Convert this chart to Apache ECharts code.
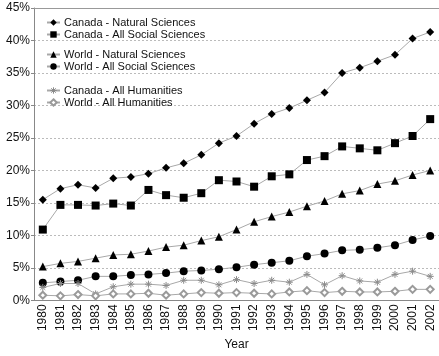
<!DOCTYPE html>
<html>
<head>
<meta charset="utf-8">
<script src="https://cdn.jsdelivr.net/npm/echarts@6/dist/echarts.min.js"></script>
<style>
html,body{margin:0;padding:0;background:#fff;}
#chart{width:439px;height:356px;}
</style>
</head>
<body>
<div id="chart"></div>
<script>
// years on the x axis
var years = ['1980','1981','1982','1983','1984','1985','1986','1987','1988','1989','1990','1991',
	'1992','1993','1994','1995','1996','1997','1998','1999','2000','2001','2002'];

// shares in percent
var canadaNatural = [15.5,17.2,17.8,17.3,18.8,19.0,19.5,20.4,21.1,22.4,24.2,25.3,27.2,28.7,29.6,30.8,32.0,35.0,35.8,36.8,37.8,40.3,41.3];
var canadaSocial  = [10.9,14.7,14.7,14.6,14.9,14.6,17.0,16.2,15.8,16.5,18.5,18.3,17.5,19.1,19.4,21.6,22.2,23.7,23.4,23.1,24.2,25.3,27.9];
var worldNatural  = [5.2,5.7,6.0,6.5,7.0,7.1,7.6,8.2,8.5,9.2,9.8,10.9,12.1,12.9,13.6,14.5,15.3,16.4,16.9,17.9,18.4,19.3,20.0];
var worldSocial   = [2.7,2.9,3.1,3.7,3.7,3.9,4.0,4.2,4.5,4.6,4.8,5.1,5.5,5.8,6.1,6.8,7.2,7.7,7.8,8.1,8.5,9.3,9.9];
var canadaHum     = [2.0,2.6,2.6,1.0,2.1,2.5,2.5,2.3,3.1,3.1,2.4,3.2,2.6,3.1,2.8,4.0,2.4,3.8,3.0,2.8,4.0,4.5,3.7];
var worldHum      = [0.8,0.7,0.9,0.7,1.0,1.0,1.1,0.8,1.0,1.2,1.1,1.2,1.1,1.0,1.3,1.5,1.2,1.4,1.3,1.3,1.4,1.7,1.7];

var names = ['Canada - Natural Sciences','Canada - All Social Sciences','World - Natural Sciences',
	'World - All Social Sciences','Canada - All Humanities','World - All Humanities'];

var font = 'Liberation Sans, Arial, sans-serif';
var star = 'path://M0,5L10,5M5,0L5,10M1.5,1.5L8.5,8.5M8.5,1.5L1.5,8.5';
var starGrey = '#8a8a8a';

function mk(name, data, symbol, size, color){
	return {
		name: name,
		type: 'line',
		data: data,
		symbol: symbol,
		symbolSize: size,
		showAllSymbol: true,
		lineStyle: {color: '#a8a8a8', width: 1},
		itemStyle: {color: color, borderColor: color, borderWidth: symbol == star ? 1 : 0},
		emphasis: {disabled: true},
		animation: false
	};
}

var chart = echarts.init(document.getElementById('chart'));

function legend(items, top){
	return {
		data: items,
		orient: 'vertical',
		left: 41,
		top: top,
		itemWidth: 13,
		itemHeight: 8,
		itemGap: 1,
		textStyle: {fontFamily: font, fontSize: 11, color: '#111', padding: [0,0,0,-1]},
		selectedMode: false
	};
}

var option = {
	animation: false,
	grid: {left: 34, right: -1, top: 8, bottom: 50},
	legend: [
		legend([names[0], names[1]], 12),
		legend([names[2], names[3]], 44),
		legend([
			{name: names[4], itemStyle: {color: 'rgba(0,0,0,0)', borderColor: starGrey, borderWidth: 1}},
			names[5]
		], 80)
	],
	xAxis: [{
		type: 'category',
		data: years,
		name: 'Year',
		nameLocation: 'middle',
		nameGap: 38,
		nameTextStyle: {fontFamily: font, fontSize: 12, color: '#111'},
		axisLine: {lineStyle: {color: '#888'}},
		axisTick: {length: 5, lineStyle: {color: '#888'}},
		axisLabel: {rotate: 90, fontFamily: font, fontSize: 12, color: '#111', margin: 4}
	}, {
		// top frame line only
		type: 'category',
		data: years,
		position: 'top',
		axisLine: {lineStyle: {color: '#999'}},
		axisTick: {show: false},
		axisLabel: {show: false}
	}],
	yAxis: {
		type: 'value',
		min: 0,
		max: 45,
		interval: 5,
		axisLine: {show: true, lineStyle: {color: '#888'}},
		axisTick: {show: true, length: 3, lineStyle: {color: '#888'}},
		axisLabel: {formatter: '{value}%', fontFamily: font, fontSize: 12, color: '#111', margin: 4},
		splitLine: {lineStyle: {color: '#bbb', type: [2, 2]}}
	},
	series: [
		mk(names[0], canadaNatural, 'diamond', 8, '#000'),
		mk(names[1], canadaSocial, 'rect', 8, '#000'),
		mk(names[2], worldNatural, 'triangle', 8, '#000'),
		mk(names[3], worldSocial, 'circle', 8, '#000'),
		mk(names[4], canadaHum, star, 7, starGrey),
		mk(names[5], worldHum, 'emptyDiamond', 7, '#9a9a9a')
	]
};

chart.setOption(option);
</script>
</body>
</html>
